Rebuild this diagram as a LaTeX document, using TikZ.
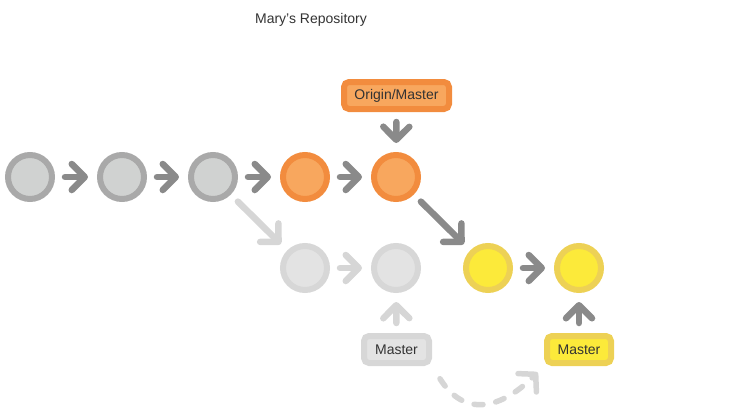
\documentclass[tikz,border=0pt]{standalone}
\usepackage{fontspec}
\setmainfont{Liberation Sans}
\usetikzlibrary{arrows.meta}
\definecolor{gring}{HTML}{A9A9A9}
\definecolor{gfill}{HTML}{D0D2D1}
\definecolor{oring}{HTML}{F28C3E}
\definecolor{ofill}{HTML}{F8A75E}
\definecolor{lring}{HTML}{D7D7D7}
\definecolor{lfill}{HTML}{E3E3E3}
\definecolor{yring}{HTML}{EDD155}
\definecolor{yfill}{HTML}{FCEA3A}
\definecolor{darr}{HTML}{8A8A8A}
\definecolor{larr}{HTML}{D6D6D6}
\definecolor{txt}{HTML}{333333}
\begin{document}
\begin{tikzpicture}[x=1pt,y=-1pt,
  commit/.style={circle, minimum size=44pt, inner sep=0pt, line width=6pt},
  gc/.style={commit, draw=gring, fill=gfill},
  oc/.style={commit, draw=oring, fill=ofill},
  lc/.style={commit, draw=lring, fill=lfill},
  yc/.style={commit, draw=yring, fill=yfill},
  lbl/.style={rectangle, rounded corners=5pt, line width=6pt, minimum height=27pt, inner sep=0pt,
    font=\fontsize{14pt}{16pt}\selectfont, text=txt},
  arr/.style={line width=6.5pt, line cap=round, -{Straight Barb[round, length=13pt, width=26pt, line width=6.5pt]},
    shorten <=10pt, shorten >=9pt},
  darkarr/.style={arr, draw=darr},
  lightarr/.style={arr, draw=larr},
  dasharr/.style={line width=5.5pt, line cap=round, draw=larr, dash pattern=on 9pt off 13pt,
    -{Straight Barb[round, length=12pt, width=26pt, line width=5.5pt]}, shorten <=15pt, shorten >=9pt}
]
\useasboundingbox (0,0) rectangle (730,412);
\node[font=\fontsize{14pt}{16pt}\selectfont, text=txt] (title) at (311,20) {Mary’s Repository};

\node[gc] (c1) at (30,177) {};
\node[gc] (c2) at (122,177) {};
\node[gc] (c3) at (213,177) {};
\node[oc] (c4) at (305,177) {};
\node[oc] (c5) at (396,177) {};
\node[lc] (l1) at (305,268) {};
\node[lc] (l2) at (396,268) {};
\node[yc] (y1) at (488,268) {};
\node[yc] (y2) at (579,268) {};

\node[lbl, draw=oring, fill=ofill, minimum width=105pt] (om) at (396.5,95.5) {Origin/Master};
\node[lbl, draw=lring, fill=lfill, minimum width=65pt] (m1) at (396.5,349.5) {Master};
\node[lbl, draw=yring, fill=yfill, minimum width=64pt] (m2) at (579,349.5) {Master};

\draw[darkarr] (c1) -- (c2);
\draw[darkarr] (c2) -- (c3);
\draw[darkarr] (c3) -- (c4);
\draw[darkarr] (c4) -- (c5);
\draw[darkarr] (c5) -- (y1);
\draw[darkarr] (y1) -- (y2);
\draw[lightarr] (c3) -- (l1);
\draw[lightarr] (l1) -- (l2);
\draw[darkarr] (om) -- (c5);
\draw[lightarr] (m1) -- (l2);
\draw[darkarr] (m2) -- (y2);
\draw[dasharr] (m1.south east) to[out=-58, in=-135, looseness=1.4] (m2.south west);
\end{tikzpicture}
\end{document}
